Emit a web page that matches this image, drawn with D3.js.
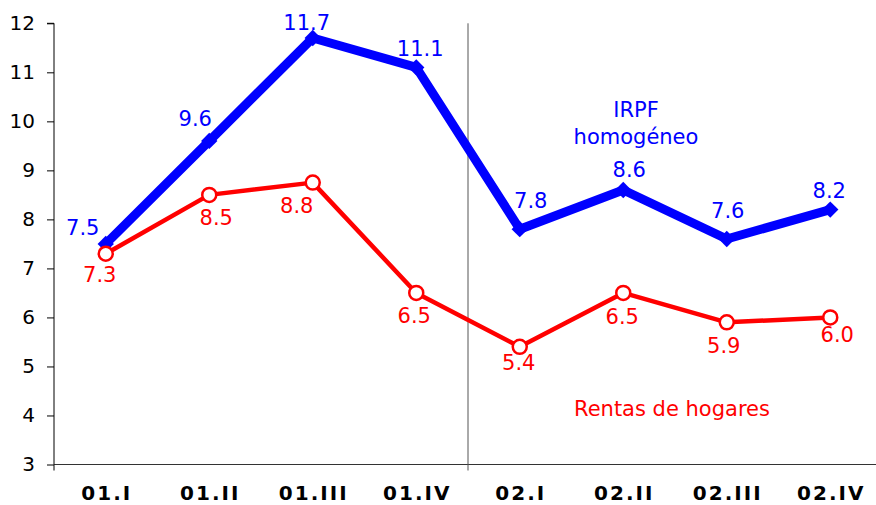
<!DOCTYPE html>
<html>
<head>
<meta charset="utf-8">
<script src="https://cdn.jsdelivr.net/npm/d3@7.9.0/dist/d3.min.js"></script>
<style>
  body { margin: 0; background: #fff; }
  svg { font-family: Verdana, "DejaVu Sans", sans-serif; }
</style>
</head>
<body>
<svg id="chart" width="876" height="505"></svg>
<script>
const quarters = ['01.I', '01.II', '01.III', '01.IV', '02.I', '02.II', '02.III', '02.IV'];
const irpf = [7.5, 9.6, 11.7, 11.1, 7.8, 8.6, 7.6, 8.2];
const rentas = [7.3, 8.5, 8.75, 6.5, 5.4, 6.5, 5.9, 6.0];
const yTicks = [3, 4, 5, 6, 7, 8, 9, 10, 11, 12];

// label offsets (dx, dy of baseline) relative to each point
const irpfOffsets = [[-23, -9], [-14, -15], [-6, -8], [4, -11], [11, -21], [6, -13], [1, -21], [-1, -12]];
const rentasOffsets = [[-6, 28], [7, 30], [-16, 30], [-2, 30], [-1, 23], [-1, 31], [-3, 31], [7, 25]];

const svg = d3.select('#chart');
const x = d3.scalePoint().domain(quarters).range([54, 882]).padding(0.5);
const y = d3.scaleLinear().domain([3, 12]).range([464.5, 23.3]);

// y axis
const yAxis = svg.append('g')
  .attr('transform', 'translate(54,0)')
  .call(d3.axisLeft(y).tickValues(yTicks).tickSize(7).tickPadding(12));
yAxis.select('.domain').attr('stroke', '#000').attr('d', `M-7,${y(12)}H0V${y(3)}`);
yAxis.selectAll('text').attr('font-size', 20).attr('fill', '#000')
  .attr('font-family', 'Verdana, "DejaVu Sans", sans-serif');

// x axis line
svg.append('line')
  .attr('x1', 54).attr('x2', 882)
  .attr('y1', y(3)).attr('y2', y(3))
  .attr('stroke', '#333');
svg.append('line')
  .attr('x1', 54).attr('x2', 54)
  .attr('y1', y(3)).attr('y2', y(3) + 6)
  .attr('stroke', '#000');

// separator between years
const mid = (x(quarters[3]) + x(quarters[4])) / 2;
svg.append('line')
  .attr('x1', mid).attr('x2', mid)
  .attr('y1', y(12)).attr('y2', y(3) + 6)
  .attr('stroke', '#555').attr('stroke-width', 1);

svg.append('g').selectAll('text')
  .data(quarters)
  .join('text')
  .attr('x', d => x(d) + 1)
  .attr('y', 500)
  .attr('text-anchor', 'middle')
  .attr('font-size', 20)
  .attr('font-weight', 'bold')
  .attr('letter-spacing', 2)
  .text(d => d);

const line = d3.line().x((d, i) => x(quarters[i])).y(d => y(d));

// rentas de hogares
svg.append('path')
  .datum(rentas)
  .attr('d', line)
  .attr('fill', 'none')
  .attr('stroke', '#ff0000')
  .attr('stroke-width', 4.5)
  .attr('stroke-linejoin', 'round');

// irpf homogeneo
svg.append('path')
  .datum(irpf)
  .attr('d', line)
  .attr('fill', 'none')
  .attr('stroke', '#0000ff')
  .attr('stroke-width', 9)
  .attr('stroke-linejoin', 'round');

svg.append('g').selectAll('path')
  .data(irpf)
  .join('path')
  .attr('d', d3.symbol(d3.symbolDiamond2, 170))
  .attr('transform', (d, i) => `translate(${x(quarters[i])},${y(d)})`)
  .attr('fill', '#0000ff');

svg.append('g').selectAll('circle')
  .data(rentas)
  .join('circle')
  .attr('cx', (d, i) => x(quarters[i]))
  .attr('cy', d => y(d))
  .attr('r', 7)
  .attr('fill', '#fff')
  .attr('stroke', '#ff0000')
  .attr('stroke-width', 2.5);

// value labels
svg.append('g').selectAll('text')
  .data(irpf)
  .join('text')
  .attr('x', (d, i) => x(quarters[i]) + irpfOffsets[i][0])
  .attr('y', (d, i) => y(d) + irpfOffsets[i][1])
  .attr('text-anchor', 'middle')
  .attr('font-size', 21)
  .attr('fill', '#0000ff')
  .text(d => d.toFixed(1));

svg.append('g').selectAll('text')
  .data(rentas)
  .join('text')
  .attr('x', (d, i) => x(quarters[i]) + rentasOffsets[i][0])
  .attr('y', (d, i) => y(d) + rentasOffsets[i][1])
  .attr('text-anchor', 'middle')
  .attr('font-size', 21)
  .attr('fill', '#ff0000')
  .text(d => d.toFixed(1));

// series names
svg.append('text')
  .attr('x', 636).attr('y', 117)
  .attr('text-anchor', 'middle')
  .attr('font-size', 21).attr('fill', '#0000ff')
  .text('IRPF');
svg.append('text')
  .attr('x', 636).attr('y', 144)
  .attr('text-anchor', 'middle')
  .attr('font-size', 21).attr('fill', '#0000ff')
  .text('homogéneo');
svg.append('text')
  .attr('x', 574).attr('y', 416)
  .attr('font-size', 21).attr('fill', '#ff0000')
  .text('Rentas de hogares');
</script>
</body>
</html>
